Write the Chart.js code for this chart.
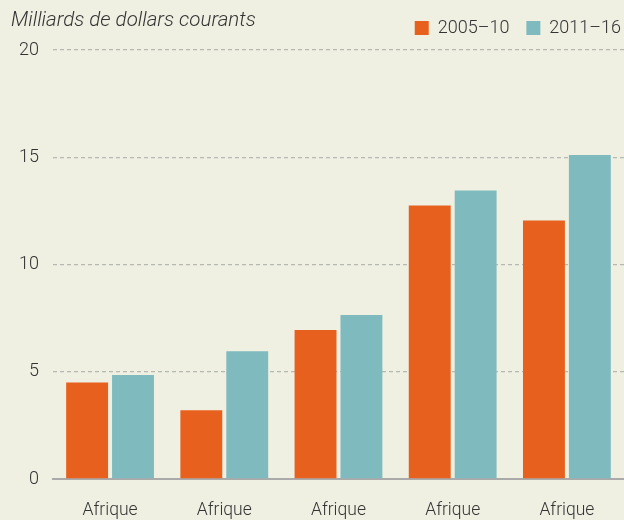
<!DOCTYPE html>
<html>
<head>
<meta charset="utf-8">
<script src="https://cdn.jsdelivr.net/npm/chart.js@4/dist/chart.umd.min.js"></script>
<style>
html,body{margin:0;padding:0;background:#EFF0E2;overflow:hidden;}
#wrap{width:624px;height:520px;position:relative;overflow:hidden;}
</style>
</head>
<body>
<div id="wrap"><canvas id="c" width="624" height="563"></canvas></div>
<script>
const categories = [["Afrique","centrale"],["Afrique","du Nord"],["Afrique","australe"],["Afrique","de l'Ouest"],["Afrique","de l'Est"]];
const seriesNames = ["2005–10","2011–16"];
const values2005 = [4.5, 3.2, 6.95, 12.75, 12.05];
const values2011 = [4.85, 5.95, 7.65, 13.45, 15.1];
const yTicks = [0, 5, 10, 15, 20];
const unitLabel = "Milliards de dollars courants";

const FONT = "Roboto, 'Liberation Sans', sans-serif";

const titlePlugin = {
  id: 'unitTitle',
  afterDraw(chart) {
    const ctx = chart.ctx;
    ctx.save();
    ctx.font = "italic 300 20.5px " + FONT;
    ctx.fillStyle = "#333";
    ctx.textBaseline = "alphabetic";
    ctx.textAlign = "left";
    ctx.fillText(unitLabel, 11, 26);
    ctx.restore();
  }
};

const legendTweak = {
  id: 'legendTweak',
  beforeInit(chart) {
    const lg = chart.legend;
    const fit = lg.fit;
    lg.fit = function() { fit.call(lg); this.height += 3; };
  },
  afterLayout(chart) {
    chart.legend.right += 14;
  }
};

new Chart(document.getElementById('c'), {
  type: 'bar',
  data: {
    labels: categories,
    datasets: [
      {label: seriesNames[0], data: values2005, backgroundColor: '#E8601E', borderWidth: 0},
      {label: seriesNames[1], data: values2011, backgroundColor: '#7FBBBE', borderWidth: 0}
    ]
  },
  options: {
    responsive: false,
    animation: false,
    devicePixelRatio: 1,
    categoryPercentage: 0.804,
    barPercentage: 0.913,
    layout: {padding: {left: 5, right: 0, top: 2, bottom: 0}},
    plugins: {
      legend: {
        position: 'top',
        align: 'end',
        labels: {
          boxWidth: 14,
          boxHeight: 14,
          padding: 17,
          color: '#333',
          font: {family: FONT, size: 18, weight: 300}
        }
      },
      tooltip: {enabled: false}
    },
    scales: {
      x: {
        grid: {display: false, drawTicks: false},
        border: {display: true, color: '#aaaaaa', width: 2},
        ticks: {color: '#333', font: {family: FONT, size: 17.5, weight: 300}, padding: 21, maxRotation: 0, autoSkip: false}
      },
      y: {
        min: 0, max: 20,
        afterBuildTicks(axis) { axis.ticks = yTicks.map(v => ({value: v})); },
        grid: {color: '#b8b8b2', lineWidth: 1.3, drawTicks: false},
        border: {display: false, dash: [4,3]},
        ticks: {color: '#333', font: {family: FONT, size: 18, weight: 300}, padding: 14}
      }
    }
  },
  plugins: [titlePlugin, legendTweak]
});
</script>
</body>
</html>
